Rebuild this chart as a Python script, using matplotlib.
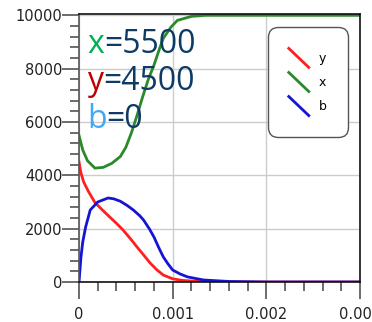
import numpy as np
import matplotlib
matplotlib.use('Agg')
import matplotlib.pyplot as plt
from matplotlib.lines import Line2D
from matplotlib.legend_handler import HandlerLine2D
from matplotlib.ticker import MultipleLocator, FuncFormatter

# curve x (green)
t_x = [0, 0.00004, 0.00009, 0.00017, 0.00026, 0.00035, 0.00044, 0.0005, 0.00056,
       0.00062, 0.00068, 0.00074, 0.0008, 0.00086, 0.0009, 0.00098, 0.00105,
       0.0012, 0.00135, 0.003]
v_x = [5500, 4950, 4550, 4270, 4300, 4450, 4700, 5050, 5600,
       6250, 6950, 7600, 8130, 8750, 9140, 9550, 9810,
       9960, 10000, 10000]

# curve y (red)
t_y = [0, 0.00002, 0.00005, 0.0001, 0.00017, 0.00025, 0.00033, 0.0004, 0.00047,
       0.00055, 0.00062, 0.0007, 0.00076, 0.00083, 0.0009, 0.001, 0.0011,
       0.0013, 0.0016, 0.003]
v_y = [4500, 4100, 3750, 3400, 2980, 2700, 2430, 2200, 1950,
       1620, 1310, 970, 710, 460, 260, 120, 60,
       15, 0, 0]

# curve b (blue)
t_b = [0, 0.00002, 0.00004, 0.00007, 0.00012, 0.0002, 0.00031, 0.00037, 0.00044,
       0.00051, 0.00058, 0.00065, 0.00069, 0.00075, 0.0008, 0.00085, 0.0009,
       0.00095, 0.001, 0.00108, 0.00116, 0.00133, 0.0016, 0.002, 0.003]
v_b = [0, 900, 1500, 2050, 2700, 3000, 3150, 3120, 3030,
       2880, 2700, 2480, 2320, 2000, 1690, 1300, 940,
       680, 450, 300, 190, 75, 20, 0, 0]

labels = ['y', 'x', 'b']
init_text = [('x', '=5500', '#00b050'), ('y', '=4500', '#c00000'), ('b', '=0', '#3fa9f5')]


class DiagHandler(HandlerLine2D):
    def create_artists(self, legend, orig_handle, xdescent, ydescent,
                       width, height, fontsize, trans):
        line = Line2D([-xdescent, width - xdescent], [height - ydescent, -ydescent])
        self.update_prop(line, orig_handle, legend)
        line.set_transform(trans)
        return [line]


fig = plt.figure(figsize=(3.72, 3.22), dpi=100)
ax = fig.add_axes([79/372, 40/322, 281/372, 268/322])

l1, = ax.plot(t_y, v_y, color='#ff1f1f', lw=2.0, label=labels[0])
l2, = ax.plot(t_x, v_x, color='#2a8a2a', lw=2.0, label=labels[1])
l3, = ax.plot(t_b, v_b, color='#1414d2', lw=2.0, label=labels[2])

ax.set_xlim(0, 0.003)
ax.set_ylim(0, 10050)
ax.xaxis.set_major_locator(MultipleLocator(0.001))
ax.xaxis.set_minor_locator(MultipleLocator(0.0002))
ax.yaxis.set_major_locator(MultipleLocator(2000))
ax.yaxis.set_minor_locator(MultipleLocator(400))
ax.xaxis.set_major_formatter(FuncFormatter(lambda v, p: '0' if abs(v) < 1e-12 else f'{v:.3f}'))
ax.yaxis.set_major_formatter(FuncFormatter(lambda v, p: f'{int(round(v))}'))
ax.grid(True, which='major', color='#cccccc', lw=1.0)
ax.set_axisbelow(True)

ax.tick_params(which='major', length=12, width=1.1, color='#444444',
               labelsize=10.5, labelcolor='#222222')
ax.tick_params(which='minor', length=6.5, width=1.1, color='#444444')
ax.tick_params(axis='y', which='major', pad=0)
ax.tick_params(axis='x', which='major', pad=6)
for s in ax.spines.values():
    s.set_color('#111111')
    s.set_linewidth(1.2)
ax.spines['left'].set_color('#555555')

leg = ax.legend(handles=[l1, l2, l3], handler_map={Line2D: DiagHandler()},
                loc='upper right', bbox_to_anchor=(0.957, 0.951), borderaxespad=0,
                fontsize=9, handlelength=1.6, handleheight=1.97, labelspacing=0.4,
                handletextpad=0.8, borderpad=1.7, frameon=True, fancybox=True,
                framealpha=1)
fr = leg.get_frame()
fr.set_boxstyle('round,pad=0,rounding_size=0.8')
fr.set_edgecolor('#555555')
fr.set_linewidth(1.0)

ys = [53, 90, 128]
for (var, rest, col), py in zip(init_text, ys):
    t1 = fig.text(87/372, (322 - py)/322, var, color=col, fontsize=23,
                  family='Open Sans', ha='left', va='baseline')
    ax.annotate(rest, xy=(1, 0), xycoords=t1, ha='left', va='bottom',
                color='#0d3b66', fontsize=23, family='Open Sans')

fig.savefig('out.png', dpi=100)
